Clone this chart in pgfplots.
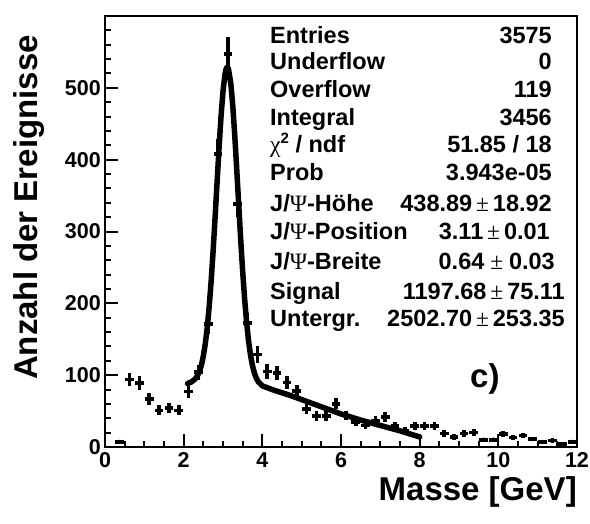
\documentclass[border=0pt]{standalone}
\usepackage{fontspec}
\setmainfont{Liberation Sans}
\newfontfamily\symf{Liberation Serif}
\usepackage{pgfplots}
\usepackage{pgfplotstable}
\pgfplotsset{compat=1.18}

% histogram: bin centre, counts, half bin width, sqrt(N)
\pgfplotstableread{
x      y    ex    ey
0.375  7    0.11  2.6
0.625  94   0.11  9.7
0.875  89   0.11  9.4
1.125  67   0.11  8.2
1.375  51   0.11  7.1
1.625  54   0.11  7.3
1.875  51   0.11  7.1
2.125  77   0.11  8.8
2.375  104  0.11  10.2
2.625  171  0.11  13.1
2.875  408  0.11  20.2
3.125  547  0.11  23.4
3.375  338  0.11  18.4
3.625  173  0.11  13.2
3.875  129  0.11  11.4
4.125  105  0.11  10.2
4.375  103  0.11  10.1
4.625  90   0.11  9.5
4.875  78   0.11  8.8
5.125  53   0.11  7.3
5.375  43   0.11  6.6
5.625  43   0.11  6.6
5.875  60   0.11  7.7
6.125  44   0.11  6.6
6.375  35   0.11  5.9
6.625  30   0.11  5.5
6.875  37   0.11  6.1
7.125  42   0.11  6.5
7.375  29   0.11  5.4
7.625  23   0.11  4.8
7.875  29   0.11  5.4
8.125  29   0.11  5.4
8.375  29   0.11  5.4
8.625  19   0.11  4.4
8.875  14   0.11  3.7
9.125  19   0.11  4.4
9.375  20   0.11  4.5
9.625  10   0.11  3.2
9.875  10   0.11  3.2
10.125 18   0.11  4.2
10.375 13   0.11  3.6
10.625 16   0.11  4.0
10.875 11   0.11  3.3
11.125 7    0.11  2.6
11.375 9    0.11  3.0
11.625 4    0.11  2.0
11.875 7    0.11  2.6
}\histdata

% fit curve (Gauss + background)
\pgfplotstableread{
x     y
2.10  88.4
2.20  90.6
2.30  95.2
2.35  99.2
2.40  105.1
2.45  113.8
2.50  126.5
2.55  143.8
2.60  166.7
2.65  196.1
2.70  231.9
2.75  273.8
2.80  320.3
2.85  369.0
2.90  416.8
2.95  460.2
3.00  494.9
3.05  518.9
3.08  526.5
3.11  528.9
3.14  526.2
3.20  505.5
3.25  474.0
3.30  432.9
3.35  385.9
3.40  336.7
3.45  289.0
3.50  244.5
3.55  206.1
3.60  173.7
3.65  147.7
3.70  127.8
3.75  113.1
3.80  102.6
3.85  95.4
3.90  90.5
4.00  85.1
4.10  83.1
4.20  81.0
4.30  79.0
4.50  75.5
4.70  72.0
5.00  66.0
5.50  56.0
6.00  46.0
6.50  37.5
7.00  30.0
7.50  22.5
8.00  14.0
}\fitdata

\begin{document}
\begin{tikzpicture}[
  stat/.style={font=\fontsize{23.5}{23.5}\selectfont\bfseries, inner sep=0pt},
]
\begin{axis}[
  scale only axis,
  width=472pt, height=431pt,
  xmin=0, xmax=12, ymin=0, ymax=600,
  xtick={0,2,...,12},
  minor xtick={0,0.5,...,12},
  ytick={0,100,...,500},
  minor ytick={0,20,...,600},
  xtick pos=bottom, ytick pos=left,
  tick align=inside,
  major tick length=13pt, minor tick length=6pt,
  every tick/.style={black, line width=2pt},
  axis line style={line width=2pt},
  tick label style={font=\fontsize{21.5}{21.5}\selectfont\bfseries},
  xticklabel style={inner sep=5.5pt},
  yticklabel style={inner sep=4pt},
  /pgf/number format/assume math mode=true,
  xlabel={Masse [GeV]},
  ylabel={Anzahl der Ereignisse},
  xlabel style={at={(rel axis cs:1,-0.123)}, anchor=base east,
    font=\fontsize{33}{33}\selectfont\bfseries, inner sep=0pt},
  ylabel style={at={(rel axis cs:-0.161,0.956)}, anchor=east,
    font=\fontsize{33}{33}\selectfont\bfseries, inner sep=0pt},
]
\addplot[only marks, mark=none, black,
  error bars/.cd,
    x dir=both, x explicit,
    y dir=both, y explicit,
    error mark=none,
    error bar style={line width=3.6pt, black},
] table[x=x, y=y, x error=ex, y error=ey] {\histdata};

\addplot[black, line width=5.5pt, line join=round, line cap=round] table[x=x, y=y] {\fitdata};
\end{axis}

\node[stat, anchor=base west] at (165pt,403.7pt) {Entries};
\node[stat, anchor=base east] at (447pt,403.7pt) {3575};
\node[stat, anchor=base west] at (165pt,377pt) {Underflow};
\node[stat, anchor=base east] at (447pt,377pt) {0};
\node[stat, anchor=base west] at (165pt,349.3pt) {Overflow};
\node[stat, anchor=base east] at (447pt,349.3pt) {119};
\node[stat, anchor=base west] at (165pt,321pt) {Integral};
\node[stat, anchor=base east] at (447pt,321pt) {3456};
\node[stat, anchor=base west] at (165pt,294pt) {{\symf\mdseries χ}\raisebox{0.42em}{\fontsize{15}{15}\selectfont 2} / ndf};
\node[stat, anchor=base east] at (447pt,294pt) {51.85 / 18};
\node[stat, anchor=base west] at (165pt,266pt) {Prob};
\node[stat, anchor=base east] at (447pt,266pt) {3.943e-05};
\node[stat, anchor=base west] at (165pt,235.3pt) {J/{\symf\mdseries Ψ}-Höhe};
\node[stat, anchor=base east] at (447pt,235.3pt) {438.89{\symf\mdseries\,±\,}18.92};
\node[stat, anchor=base west] at (165pt,207pt) {J/{\symf\mdseries Ψ}-Position};
\node[stat, anchor=base east] at (445pt,207pt) {3.11{\symf\mdseries\,±\,}0.01};
\node[stat, anchor=base west] at (165pt,177pt) {J/{\symf\mdseries Ψ}-Breite};
\node[stat, anchor=base east] at (450pt,177pt) {0.64{\symf\mdseries\ ±\ }0.03};
\node[stat, anchor=base west] at (165pt,147pt) {Signal};
\node[stat, anchor=base east] at (460pt,147pt) {1197.68{\symf\mdseries\,±\,}75.11};
\node[stat, anchor=base west] at (165pt,120.3pt) {Untergr.};
\node[stat, anchor=base east] at (460pt,120.3pt) {2502.70{\symf\mdseries\,±\,}253.35};

\node[font=\fontsize{33}{33}\selectfont\bfseries, inner sep=0pt, anchor=base west] at (365pt,60pt) {c)};

\pgfresetboundingbox
\path[use as bounding box] (-105pt,-76pt) rectangle (485pt,447pt);
\end{tikzpicture}
\end{document}
